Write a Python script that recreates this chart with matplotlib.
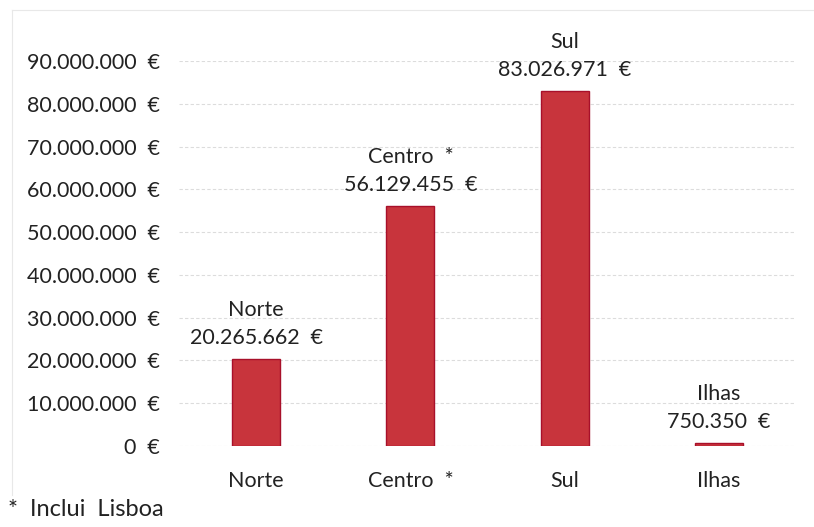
import matplotlib
matplotlib.use("Agg")
import matplotlib.pyplot as plt
from matplotlib.ticker import FuncFormatter, MultipleLocator

categories = ["Norte", "Centro  *", "Sul", "Ilhas"]
values = [20265662, 56129455, 83026971, 750350]
bar_titles = ["Norte", "Centro  *", "Sul", "Ilhas"]

def fmt_eur(v):
    s = f"{int(round(v)):,}".replace(",", ".")
    return f"{s}  €"

plt.rcParams['font.family'] = ['Lato', 'DejaVu Sans']
fig = plt.figure(figsize=(8.14, 5.27), dpi=100)
ax = fig.add_axes([179/814, 1 - 446/527, 617/814, (446-61)/527])

x = list(range(len(categories)))
ax.bar(x, values, width=0.31, color="#C8343C", edgecolor="#A8102A", linewidth=1.0, zorder=3)
ax.set_xlim(-0.5, 3.5)
ax.set_ylim(0, 90000000)
ax.yaxis.set_major_locator(MultipleLocator(10000000))
ax.yaxis.set_major_formatter(FuncFormatter(lambda v, p: fmt_eur(v)))
ax.set_xticks(x)
ax.set_xticklabels(categories)
ax.tick_params(axis='both', length=0, labelsize=15.5, colors="#222222")
ax.tick_params(axis='y', pad=13.5)
ax.tick_params(axis='x', pad=18)
ax.grid(axis='y', color="#dcdcdc", linewidth=0.8, linestyle=(0, (3, 2)), zorder=0)
for s in ax.spines.values():
    s.set_visible(False)

for xi, v, t in zip(x, values, bar_titles):
    ax.annotate(f"{t}\n{fmt_eur(v)}", (xi, v), xytext=(0, 8), textcoords="offset points",
                ha="center", va="bottom", fontsize=15.5, color="#222222", linespacing=1.5)

fig.text(8/814, 1 - 510/527, "*  Inclui  Lisboa", fontsize=17, color="#222222", va="center", ha="left")

# faint outer frame
fig.add_artist(plt.Line2D([12/814, 1], [1 - 10/527, 1 - 10/527], color="#e8e8e8", lw=0.8, transform=fig.transFigure))
fig.add_artist(plt.Line2D([12/814, 12/814], [1 - 10/527, 1 - 495/527], color="#e8e8e8", lw=0.8, transform=fig.transFigure))

fig.savefig("out.png", dpi=100)
